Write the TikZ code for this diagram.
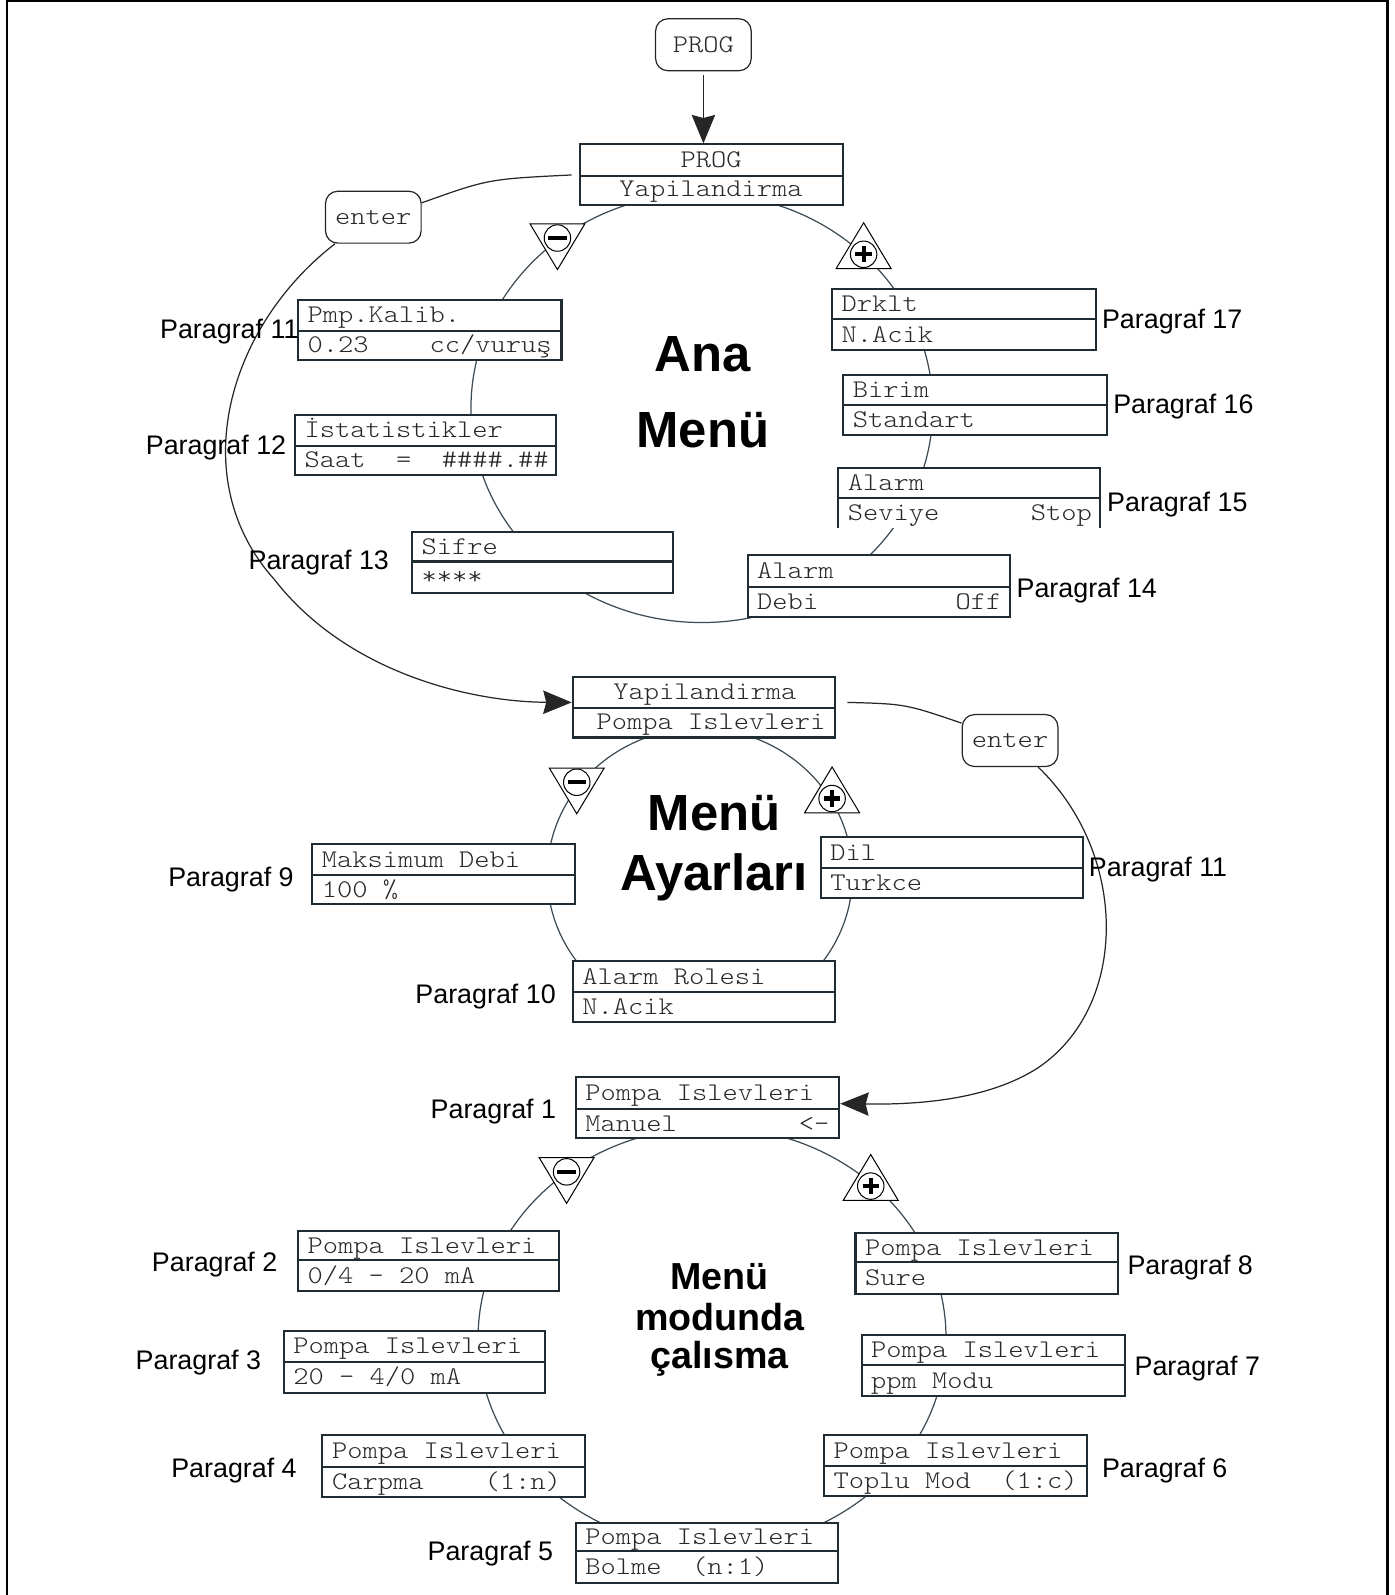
\documentclass[tikz,border=0pt]{standalone}
\usepackage{fontspec}
\setmainfont{Liberation Sans}
\newfontfamily\monof[FakeStretch=1.143]{lmmonolt10-regular.otf}
\usetikzlibrary{arrows.meta,fit,calc}
\definecolor{boxc}{RGB}{32,44,52}
\definecolor{arcc}{RGB}{60,74,84}
\definecolor{monoc}{RGB}{40,40,40}

\newcommand\lcd[8]{%
  \path (#2,#3) coordinate (#1-a) (#4,#6) coordinate (#1-b);
  \node[lcdframe, fit=(#1-a)(#1-b)] (#1) {};
  \draw[lcdline] (#2,#5) -- (#4,#5);
  \node[mono, anchor=base west] (#1-t) at ({#2+9},{(#3+#5)/2+7.5}) {#7};
  \node[mono, anchor=base west] (#1-v) at ({#2+9},{(#5+#6)/2+7.5}) {#8};
}

\begin{document}
\begin{tikzpicture}[x=0.5pt,y=-0.5pt,
  lcdframe/.style={draw=boxc, line width=1pt, fill=white, inner sep=0pt},
  lcdline/.style={draw=boxc, line width=1pt},
  mono/.style={font=\monof\fontsize{12.5}{14}\selectfont, text=monoc, inner sep=0pt},
  para/.style={font=\fontsize{13.2}{15}\selectfont, inner sep=0pt, anchor=base west},
  arcline/.style={draw=arcc, line width=0.6pt},
  flow/.style={draw=black!85, line width=0.6pt},
  bigarrow/.style={-{Stealth[length=14pt,width=11.5pt,inset=1.5pt]}},
  keybox/.style={draw=black!85, rounded corners=6pt, line width=0.6pt, fill=white, inner sep=0pt,
    font=\monof\fontsize{12.5}{14}\selectfont, text=monoc, minimum width=47pt, minimum height=25.5pt},
  bigtitle/.style={font=\bfseries\fontsize{25}{28}\selectfont, inner sep=0pt, anchor=base},
  smalltitle/.style={font=\bfseries\fontsize{18.5}{22}\selectfont, inner sep=0pt, anchor=base},
  minuskey/.pic={
    \draw[fill=white, line width=0.5pt] (-27,-14) -- (27,-14) -- (0,31) -- cycle;
    \draw[line width=0.5pt] (0,0) circle[radius=6.5pt];
    \draw[line width=2pt] (-9,0) -- (9,0);},
  pluskey/.pic={
    \draw[fill=white, line width=0.5pt] (-27,14) -- (27,14) -- (0,-31) -- cycle;
    \draw[line width=0.5pt] (0,0) circle[radius=6.5pt];
    \draw[line width=2pt] (-8,0) -- (8,0) (0,-8) -- (0,8);},
]
\useasboundingbox (0,0) rectangle (1371,1568);
\fill[white] (0,0) rectangle (1371,1568);
% outer frame
\draw[line width=1pt] (7,1568) -- (7,1) -- (1364,1) -- (1364,1568);

% circles (menu loops)
\coordinate (c1) at (690,401);
\coordinate (c2) at (688,860);
\coordinate (c3) at (700,1315);
\draw[arcline] (c1) ellipse [x radius=113.5pt, y radius=105.5pt];
\draw[arcline] (c2) ellipse [x radius=75pt, y radius=72pt];
\draw[arcline] (c3) ellipse [x radius=115pt, y radius=103.5pt];

% keys on loops
\pic at (548,234) {minuskey};
\pic at (849,250) {pluskey};
\pic at (567,769) {minuskey};
\pic at (818,785) {pluskey};
\pic at (557,1152) {minuskey};
\pic at (856,1166) {pluskey};

% top PROG key
\node[keybox] (prog0) at (691.5,44) {PROG};

% PROG / Yapilandirma
\path (570,142) coordinate (prog-a) (829,202) coordinate (prog-b);
\node[lcdframe, fit=(prog-a)(prog-b)] (prog) {};
\draw[lcdline] (570,173) -- (829,173);
\node[mono, anchor=base] (prog-t) at (699,165) {PROG};
\node[mono, anchor=base] (prog-v) at (699,193) {Yapilandirma};

% Ana Menu boxes
\lcd{pmp}{293}{295}{552}{325}{354}{Pmp.Kalib.}{0.23~~~~cc/vuruş}
\lcd{ist}{290}{408}{547}{438}{467}{İstatistikler}{Saat~~=~~\#\#\#\#.\#\#}
\lcd{sif}{405}{523}{662}{552}{583}{Sifre}{****}
\lcd{drk}{818}{284}{1077}{314}{344}{Drklt}{N.Acik}
\lcd{bir}{829}{369}{1088}{398}{428}{Birim}{Standart}
% Alarm / Seviye (open bottom)
\path (824,460) coordinate (sev-a) (1081,519) coordinate (sev-b);
\node[fill=white, inner sep=0pt, fit=(sev-a)(sev-b)] (sev) {};
\draw[lcdline] (824,519) -- (824,460) -- (1081,460) -- (1081,519);
\draw[lcdline] (824,490) -- (1081,490);
\node[mono, anchor=base west] (sev-t) at (833,482.5) {Alarm};
\node[mono, anchor=base west] (sev-v) at (833,511.5) {Seviye~~~~~~Stop};
\lcd{deb}{735}{546}{993}{577}{607}{Alarm}{Debi~~~~~~~~~Off}

% Menu Ayarlari boxes
\path (563,666) coordinate (yap-a) (821,725) coordinate (yap-b);
\node[lcdframe, fit=(yap-a)(yap-b)] (yap) {};
\draw[lcdline] (563,696) -- (821,696);
\node[mono, anchor=base] (yap-t) at (693,688) {Yapilandirma};
\node[mono, anchor=base] (yap-v) at (699,717) {Pompa~Islevleri};
\lcd{mak}{307}{830}{565}{860}{889}{Maksimum~Debi}{100~\%}
\lcd{dil}{807}{823}{1065}{853}{883}{Dil}{Turkce}
\lcd{alr}{563}{945}{821}{975}{1005}{Alarm~Rolesi}{N.Acik}

% Menu modunda calisma boxes
\lcd{man}{566}{1059}{825}{1090}{1119}{Pompa~Islevleri}{Manuel~~~~~~~~<-}
\lcd{b2}{293}{1210}{550}{1239}{1269}{Pompa~Islevleri}{0/4~-~20~mA}
\lcd{b3}{279}{1308}{536}{1339}{1369}{Pompa~Islevleri}{20~-~4/0~mA}
\lcd{b4}{317}{1411}{575}{1442}{1472}{Pompa~Islevleri}{Carpma~~~~(1:n)}
\lcd{b5}{566}{1497}{824}{1525}{1556}{Pompa~Islevleri}{Bolme~~(n:1)}
\lcd{b6}{810}{1411}{1069}{1441}{1471}{Pompa~Islevleri}{Toplu~Mod~~(1:c)}
\lcd{b7}{847}{1312}{1106}{1342}{1372}{Pompa~Islevleri}{ppm~Modu}
\lcd{b8}{841}{1212}{1099}{1241}{1272}{Pompa~Islevleri}{Sure}

% enter keys
\node[keybox] (ent1) at (367,213.5) {enter};
\node[keybox] (ent2) at (993,728) {enter};

% flows
\draw[bigarrow, flow] ([yshift=-2pt]prog0.south) -- (prog0.south |- prog.north);
\draw[flow] ($(prog.west)+(-7,0)$) .. controls (480,176) .. ($(ent1.north east)+(0,12)$);
\draw[flow, bigarrow] ($(ent1.south west)+(10,0)$) .. controls (225,320) and (180,470) .. (270,570)
  .. controls (340,660) and (460,690) .. ($(yap.west)+(0,-5)$);
\draw[flow] ($(yap.east)+(11,-5)$) .. controls (890,692) .. ($(ent2.north west)+(0,9)$);
\draw[flow, bigarrow] ($(ent2.south east)+(-20,0)$) .. controls (1110,840) and (1110,990) .. (1020,1050)
  .. controls (970,1082) and (900,1086) .. ($(man.east)+(0,-4)$);

% titles
\node[bigtitle] (t1a) at (691,365) {Ana};
\node[bigtitle] (t1b) at (691,440) {Menü};
\node[bigtitle] (t2a) at (702,816) {Menü};
\node[bigtitle] (t2b) at (702,875) {Ayarları};
\node[smalltitle] (t3a) at (707.5,1268) {Menü};
\node[smalltitle] (t3b) at (707.5,1308) {modunda};
\node[smalltitle] (t3c) at (707.5,1345) {çalısma};

% paragraph labels
\node[para] (p11a) at (157,332.5) {Paragraf 11};
\node[para] (p12) at (143,446.5) {Paragraf 12};
\node[para] (p13) at (244,559.5) {Paragraf 13};
\node[para] (p17) at (1083,322.5) {Paragraf 17};
\node[para] (p16) at (1094,406.5) {Paragraf 16};
\node[para] (p15) at (1088,502.5) {Paragraf 15};
\node[para] (p14) at (999,587.5) {Paragraf 14};
\node[para] (p9) at (165,871.5) {Paragraf 9};
\node[para] (p11b) at (1070,861.5) {Paragraf 11};
\node[para] (p10) at (408,986.5) {Paragraf 10};
\node[para] (p1) at (423,1099.5) {Paragraf 1};
\node[para] (p2) at (149,1249.5) {Paragraf 2};
\node[para] (p3) at (133,1346.5) {Paragraf 3};
\node[para] (p4) at (168,1452.5) {Paragraf 4};
\node[para] (p5) at (420,1534.5) {Paragraf 5};
\node[para] (p6) at (1083,1452.5) {Paragraf 6};
\node[para] (p7) at (1115,1352.5) {Paragraf 7};
\node[para] (p8) at (1108,1252.5) {Paragraf 8};
\end{tikzpicture}
\end{document}
